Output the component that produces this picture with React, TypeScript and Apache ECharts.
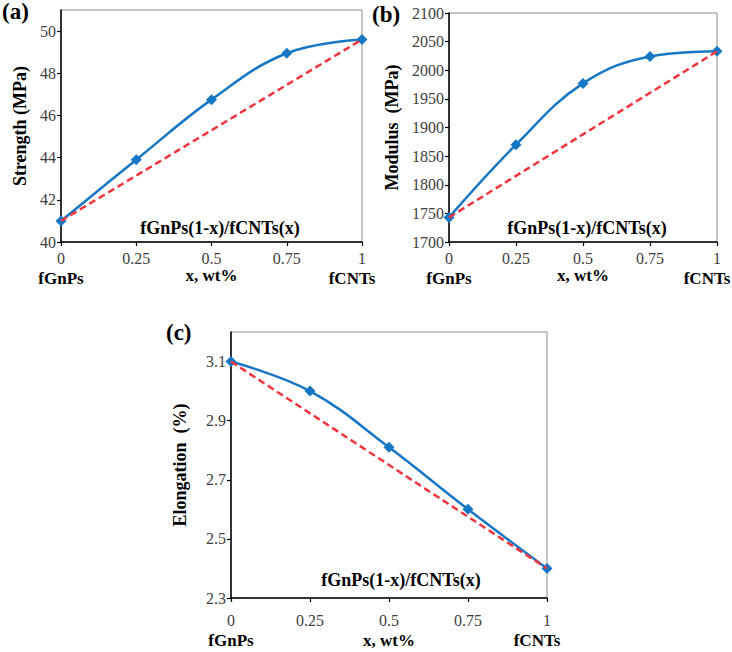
import React, { useEffect, useRef } from "react";
import * as echarts from "echarts";

const xValues = [0, 0.25, 0.5, 0.75, 1];
const strength = [41, 43.9, 46.75, 48.95, 49.6];
const modulus = [1743, 1870, 1977, 2024, 2033];
const elongation = [3.1, 3.0, 2.81, 2.6, 2.4];

const yTicksA = [40, 42, 44, 46, 48, 50];
const yTicksB = [1700, 1750, 1800, 1850, 1900, 1950, 2000, 2050, 2100];
const yTicksC = [2.3, 2.5, 2.7, 2.9, 3.1];

const startLabel = "fGnPs";
const endLabel = "fCNTs";
const xName = "x, wt%";
const annotation = "fGnPs(1-x)/fCNTs(x)";
const yNames = ["Strength (MPa)", "Modulus  (MPa)", "Elongation  (%)"];
const panelLabels = ["(a)", "(b)", "(c)"];

const FONT = "'Liberation Serif', 'Times New Roman', serif";
const BLUE = "#1777c4";
const RED = "#f0353f";

export default function App() {
  const ref = useRef<HTMLDivElement>(null);
  useEffect(() => {
    if (!ref.current) return;
    const chart = echarts.init(ref.current, undefined, { renderer: "svg" });

    const grids = [
      { left: 61, top: 10, width: 301, height: 232 },
      { left: 449, top: 13, width: 268, height: 229 },
      { left: 231, top: 332, width: 316, height: 266 },
    ];
    const yRanges = [
      { min: 40, max: 51, ticks: yTicksA, gap: 32 },
      { min: 1700, max: 2100, ticks: yTicksB, gap: 48 },
      { min: 2.3, max: 3.2, ticks: yTicksC, gap: 42 },
    ];
    const xLayout = [
      { margin: 6, nameGap: 25 },
      { margin: 6, nameGap: 25 },
      { margin: 12, nameGap: 34 },
    ];
    const datasets = [strength, modulus, elongation];

    const xAxes = grids.map((_, i) => ({
      type: "value",
      gridIndex: i,
      min: 0,
      max: 1,
      name: xName,
      nameLocation: "middle",
      nameGap: xLayout[i].nameGap,
      nameMoveOverlap: false,
      nameTextStyle: { fontFamily: FONT, fontWeight: "bold", fontSize: 17, color: "#000" },
      axisLine: { show: true, lineStyle: { color: "#000", width: 1.5 } },
      axisTick: { show: true, length: 4, customValues: xValues, lineStyle: { color: "#000", width: 1.2 } },
      splitLine: { show: false },
      axisLabel: {
        customValues: xValues,
        margin: xLayout[i].margin,
        fontFamily: FONT,
        fontSize: 16,
        color: "#404040",
        lineHeight: 20,
        formatter: (v: number) => {
          const s = String(v);
          if (v === xValues[0]) return s + "\n{n|" + startLabel + "}";
          if (v === xValues[xValues.length - 1]) return s + "\n{e|" + endLabel + "}";
          return s;
        },
        rich: {
          n: { fontFamily: FONT, fontWeight: "bold", fontSize: 17, color: "#000", lineHeight: 20 },
          e: {
            fontFamily: FONT,
            fontWeight: "bold",
            fontSize: 17,
            color: "#000",
            lineHeight: 20,
            padding: [0, 20, 0, 0],
          },
        },
      },
    }));

    const yAxes = grids.map((_, i) => ({
      type: "value",
      gridIndex: i,
      min: yRanges[i].min,
      max: yRanges[i].max,
      name: yNames[i],
      nameLocation: "middle",
      nameRotate: 90,
      nameGap: yRanges[i].gap,
      nameMoveOverlap: false,
      nameTextStyle: { fontFamily: FONT, fontWeight: "bold", fontSize: 18, color: "#000" },
      axisLine: { show: true, lineStyle: { color: "#000", width: 1.5 } },
      axisTick: { show: true, length: 4, customValues: yRanges[i].ticks, lineStyle: { color: "#000", width: 1.2 } },
      splitLine: { show: false },
      axisLabel: {
        customValues: yRanges[i].ticks,
        margin: 5,
        fontFamily: FONT,
        fontSize: 16,
        color: "#404040",
        formatter: (v: number) => String(v),
      },
    }));

    const series: any[] = [];
    datasets.forEach((d, i) => {
      series.push({
        type: "line",
        xAxisIndex: i,
        yAxisIndex: i,
        data: xValues.map((x, k) => [x, d[k]]),
        smooth: 0.4,
        symbol: "diamond",
        symbolSize: 11,
        lineStyle: { color: BLUE, width: 2.5 },
        itemStyle: { color: BLUE },
        z: 2,
      });
      series.push({
        type: "line",
        xAxisIndex: i,
        yAxisIndex: i,
        data: [
          [xValues[0], d[0]],
          [xValues[xValues.length - 1], d[d.length - 1]],
        ],
        symbol: "none",
        lineStyle: { color: RED, width: 2.5, type: [7, 4] },
        z: 3,
      });
    });

    const annPos = [
      [220, 228],
      [587, 228],
      [401, 580],
    ];
    const labelPos = [
      [2, 0],
      [372, 3],
      [166, 321],
    ];

    const graphic: any[] = [];
    annPos.forEach(([x, y]) => {
      graphic.push({
        type: "text",
        x,
        y,
        z: 10,
        style: {
          text: annotation,
          fontFamily: FONT,
          fontWeight: "bold",
          fontSize: 18,
          fill: "#000",
          align: "center",
          verticalAlign: "middle",
        },
      });
    });
    labelPos.forEach(([x, y], i) => {
      graphic.push({
        type: "text",
        x,
        y,
        z: 10,
        style: {
          text: panelLabels[i],
          fontFamily: FONT,
          fontWeight: "bold",
          fontSize: 23,
          fill: "#000",
          align: "left",
          verticalAlign: "top",
        },
      });
    });

    chart.setOption({
      animation: false,
      backgroundColor: "#fff",
      grid: grids.map((g) => ({
        ...g,
        show: true,
        borderColor: "#8c8c8c",
        borderWidth: 1,
        backgroundColor: "transparent",
        containLabel: false,
        outerBoundsMode: "none",
      })),
      xAxis: xAxes,
      yAxis: yAxes,
      series,
      graphic,
    });

    return () => chart.dispose();
  }, []);

  return (
    <div
      ref={ref}
      style={{ position: "fixed", left: 0, top: 0, width: 732, height: 652 }}
    />
  );
}
